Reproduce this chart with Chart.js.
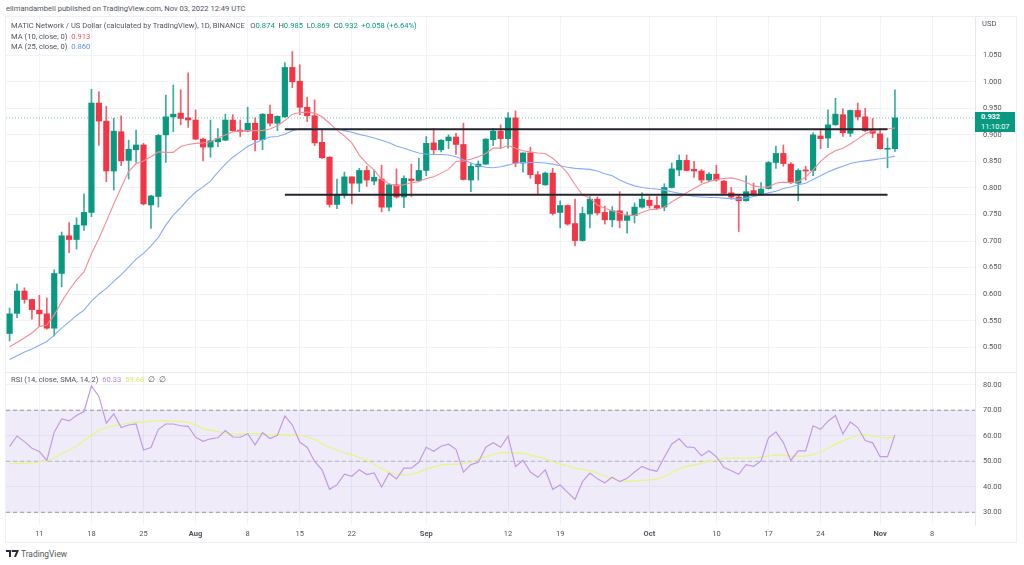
<!DOCTYPE html>
<html>
<head>
<meta charset="utf-8">
<title>MATIC / USD</title>
<script src="https://cdn.jsdelivr.net/npm/chart.js@4"></script>
<style>
html,body{margin:0;padding:0;background:#fff;width:1024px;height:565px;overflow:hidden;font-family:Roboto,sans-serif;}
canvas{position:absolute;left:6px;}
#priceChart{top:17px;}
#rsiChart{top:373px;}
.frame{position:absolute;left:5px;top:16px;width:1010px;height:525px;border:1px solid #eef0f6;}
.sep{position:absolute;left:6px;top:372px;width:1010px;height:1px;background:#e9ebf2;}
.txt{position:absolute;font-size:7.6px;line-height:10px;color:#50535e;white-space:pre;}
.tag{position:absolute;left:975px;top:112px;width:40px;height:20px;background:#089981;color:#fff;font-size:7.4px;line-height:9.5px;padding-left:6px;box-sizing:border-box;}
.g{color:#089981}.r{color:#f7525f}.b{color:#5f8dfa}.p{color:#b58ce0}.y{color:#d7ee6c}
</style>
</head>
<body>
<div class="frame"></div>
<div class="sep"></div>
<canvas id="priceChart" width="1010" height="355"></canvas>
<canvas id="rsiChart" width="1010" height="169"></canvas>

<div class="txt" style="left:6px;top:4px;">elimandambell published on TradingView.com, Nov 03, 2022 12:49 UTC</div>
<div class="txt" style="left:11px;top:21px;">MATIC Network / US Dollar (calculated by TradingView), 1D, BINANCE   O<span class="g">0.874</span>  H<span class="g">0.985</span>  L<span class="g">0.869</span>  C<span class="g">0.932</span>  <span class="g">+0.058 (+6.64%)</span></div>
<div class="txt" style="left:11px;top:32px;">MA (10, close, 0)  <span class="r">0.913</span></div>
<div class="txt" style="left:11px;top:42px;">MA (25, close, 0)  <span class="b">0.860</span></div>
<div class="txt" style="left:11px;top:375px;">RSI (14, close, SMA, 14, 2)  <span class="p">60.33</span>  <span class="y">59.68</span>  ∅  ∅</div>
<div class="txt" style="left:982px;top:19px;">USD</div>
<div class="tag"><b>0.932</b><br>11:10:07</div>
<svg style="position:absolute;left:6px;top:550px;" width="13" height="8" viewBox="0 0 13 8"><path d="M0 0h5v7H3V2H0z M6 0h7l-3 7H8l2-5H6z" fill="#2a2e39"/><circle cx="6.5" cy="1" r="1" fill="#2a2e39"/></svg>
<div class="txt" style="left:21px;top:549px;font-size:8.4px;color:#555;">TradingView</div>

<script>
var opens = [.526,.564,.606,.590,.570,.563,.536,.639,.710,.703,.730,.754,.960,.926,.832,.906,.852,.872,.881,.768,
.784,.900,.934,.941,.932,.928,.892,.877,.887,.890,.928,.909,.907,.922,.891,.939,.922,.934,1.027,1.001,
.952,.936,.886,.858,.769,.787,.821,.809,.833,.813,.817,.764,.806,.783,.817,.814,.833,.885,.872,.889,
.896,.882,.815,.840,.845,.891,.907,.893,.932,.847,.866,.825,.806,.828,.754,.767,.733,.701,.751,.779,
.754,.740,.757,.739,.748,.764,.777,.767,.764,.801,.834,.852,.835,.832,.815,.826,.813,.791,.783,.776,
.795,.787,.799,.848,.865,.845,.809,.834,.833,.898,.894,.919,.938,.903,.946,.934,.910,.902,.873,.874];
var highs = [.574,.619,.612,.591,.598,.593,.646,.717,.735,.744,.789,.986,.981,.954,.931,.936,.890,.909,.884,.786,
.901,.975,.994,.985,1.017,.947,.894,.928,.912,.939,.938,.928,.952,.932,.940,.956,.936,1.036,1.057,1.032,
.971,.966,.911,.859,.817,.830,.821,.837,.841,.834,.843,.808,.836,.823,.845,.856,.897,.912,.891,.900,
.903,.922,.847,.851,.893,.912,.919,.942,.945,.866,.877,.831,.830,.837,.776,.768,.779,.764,.784,.783,
.766,.765,.793,.755,.772,.791,.784,.784,.808,.847,.862,.862,.850,.835,.829,.843,.814,.801,.787,.823,
.809,.810,.850,.879,.881,.848,.836,.841,.904,.909,.947,.969,.949,.947,.960,.950,.931,.912,.894,.985];
var lows = [.512,.556,.583,.553,.539,.534,.521,.614,.678,.685,.720,.746,.880,.812,.796,.842,.817,.848,.768,.724,
.764,.848,.906,.919,.914,.891,.851,.858,.878,.889,.907,.897,.906,.870,.872,.917,.908,.933,.989,.938,
.925,.880,.855,.764,.761,.781,.770,.793,.803,.806,.755,.757,.781,.763,.784,.813,.823,.864,.868,.874,
.863,.815,.793,.815,.844,.880,.874,.875,.840,.830,.818,.789,.805,.749,.725,.730,.691,.700,.725,.749,
.732,.727,.725,.715,.734,.762,.762,.760,.757,.800,.823,.832,.820,.810,.812,.813,.787,.779,.718,.775,
.786,.786,.798,.837,.841,.808,.776,.815,.823,.874,.876,.918,.897,.897,.928,.906,.895,.873,.838,.869];
var closes = [.563,.606,.590,.571,.563,.536,.639,.710,.703,.730,.754,.960,.926,.832,.907,.851,.873,.881,.770,.785,
.899,.934,.939,.931,.928,.892,.877,.889,.893,.928,.908,.906,.922,.891,.939,.922,.935,1.027,1.000,.952,
.936,.885,.857,.769,.787,.821,.809,.833,.815,.820,.764,.806,.783,.818,.814,.833,.884,.872,.890,.896,
.882,.816,.841,.845,.892,.907,.893,.932,.847,.866,.825,.808,.828,.752,.767,.732,.701,.752,.779,.753,
.740,.757,.739,.748,.764,.779,.767,.762,.801,.836,.852,.833,.832,.815,.826,.815,.790,.783,.776,.793,
.787,.798,.848,.865,.846,.810,.833,.832,.900,.893,.919,.939,.904,.946,.934,.908,.903,.874,.874,.932];
var ma10 = [.501,.509,.518,.527,.539,.542,.561,.586,.608,.627,.642,.676,.705,.737,.770,.801,.831,.846,.851,.859,
.868,.867,.867,.878,.882,.884,.885,.887,.894,.900,.906,.907,.908,.908,.908,.911,.917,.927,.939,.942,
.943,.941,.934,.922,.909,.898,.885,.862,.846,.834,.816,.808,.804,.806,.810,.812,.818,.821,.828,.835,
.850,.851,.854,.859,.865,.875,.875,.880,.875,.870,.868,.866,.865,.856,.843,.828,.806,.787,.781,.768,
.762,.757,.753,.749,.748,.754,.759,.760,.764,.774,.782,.791,.799,.807,.812,.816,.818,.819,.816,.811,
.804,.802,.802,.809,.811,.810,.812,.821,.834,.850,.862,.870,.875,.883,.892,.902,.907,.911,.911,.913];
var ma25 = [.477,.484,.491,.497,.504,.511,.523,.536,.548,.560,.570,.587,.600,.611,.624,.637,.651,.666,.677,.691,
.707,.730,.749,.763,.779,.792,.802,.813,.830,.845,.858,.868,.878,.885,.891,.896,.897,.901,.908,.911,
.911,.911,.911,.911,.911,.908,.905,.901,.898,.894,.890,.885,.879,.875,.870,.866,.864,.863,.863,.862,
.859,.853,.847,.842,.839,.838,.840,.843,.847,.848,.848,.848,.847,.845,.842,.839,.837,.836,.835,.832,
.827,.823,.815,.809,.804,.801,.799,.798,.796,.793,.790,.787,.784,.783,.782,.782,.781,.780,.779,.781,
.784,.787,.791,.794,.799,.802,.806,.809,.816,.823,.830,.836,.841,.846,.849,.851,.853,.855,.857,.860];
var rsi = [55.8,59.9,57.7,55.1,53.8,50.3,61.4,66.6,65.8,67.9,69.5,79.5,75.4,64.9,68.6,63.2,64.2,64.6,54.4,55.4,
62.5,64.6,64.6,63.9,63.7,59.4,57.8,58.8,59.2,62.0,59.5,59.4,60.8,56.4,61.2,58.9,60.2,67.8,64.2,57.5,
55.4,49.9,46.6,39.0,40.8,44.9,44.1,46.7,44.8,45.4,39.9,45.3,43.1,47.3,47.3,49.6,55.5,53.9,55.9,56.7,
54.7,45.7,48.7,49.6,55.5,57.3,55.5,59.8,47.9,50.4,45.8,43.7,46.6,39.0,40.7,37.8,35.0,42.0,45.4,43.1,
41.6,43.7,42.0,43.3,45.8,48.0,46.7,46.1,51.6,56.8,58.8,55.6,55.4,52.2,54.1,51.8,47.6,46.3,44.9,48.7,
48.0,50.1,59.2,61.5,57.3,50.3,54.1,54.1,63.9,62.5,65.7,67.9,60.7,65.4,63.2,58.1,57.2,51.8,51.8,60.33];
var rsiMa = [49.1,49.2,49.2,49.3,49.7,50.1,51.2,52.9,54.4,56.0,58.0,60.3,62.0,63.2,64.0,64.4,64.9,65.3,65.3,65.6,
65.8,65.8,65.7,65.6,65.3,64.2,62.7,62.2,61.6,61.1,60.7,60.6,60.8,60.8,60.6,60.2,60.2,60.3,60.3,60.1,
59.5,58.6,56.9,55.5,54.4,53.4,52.5,51.4,50.4,48.8,47.1,45.8,44.9,44.6,44.8,45.8,46.9,47.8,48.6,48.8,
48.8,49.1,49.7,50.8,51.8,52.7,53.3,53.5,53.1,53.3,52.5,51.7,51.0,49.9,48.8,48.3,47.3,46.9,46.3,45.3,
44.2,43.2,42.4,42.2,42.2,42.5,42.7,42.9,44.0,45.6,47.1,48.0,48.6,49.2,50.0,50.5,51.2,51.2,51.2,51.2,
51.2,51.6,52.1,52.5,52.4,52.0,52.0,52.0,52.6,53.5,55.1,56.7,58.0,59.2,60.1,60.3,59.9,59.4,59.0,59.68];

var tickDays = [4,11,18,25,32,39,46,56,67,74,86,95,102,109,117,124];
var tickLabels = ['11','18','25','Aug','8','15','22','Sep','12','19','Oct','10','17','24','Nov','8'];
var boldLabels = ['Aug','Sep','Oct','Nov'];
var priceTicks = [.5,.55,.6,.65,.7,.75,.8,.85,.9,.95,1,1.05];
var rsiTicks = [30,40,50,60,70,80];
var supportHigh = .9105;
var supportLow = .7874;
var supportDays = [37,118];
var lastPrice = .932;

var xMin = -0.484, xMax = 129.76;
var green = '#089981', red = '#f23645';
var gridColor = '#f1f3f9';

function pts(arr){ return arr.map(function(v,i){ return {x:i,y:v}; }); }
function hline(v,days){ return days.map(function(d){ return {x:d,y:v}; }); }
function candleColors(){ return closes.map(function(c,i){ return c>=opens[i] ? green : red; }); }

function xAxis(showLabels){
    return {
        type:'linear', min:xMin, max:xMax, offset:false,
        afterBuildTicks:function(a){ a.ticks = tickDays.map(function(d){ return {value:d}; }); },
        afterFit:function(a){ a.height = showLabels ? 17 : 0; a.paddingLeft = 0; a.paddingRight = 0; },
        border:{display:false},
        grid:{color:gridColor,lineWidth:1,drawTicks:false,offset:false},
        ticks:{
            display:showLabels, autoSkip:false, maxRotation:0, padding:5, color:'#50535e',
            font:function(c){ return {family:'Roboto',size:7.5,weight:(c.tick && boldLabels.indexOf(c.tick.label)>=0)?'bold':'normal'}; },
            callback:function(v){ return tickLabels[tickDays.indexOf(v)]; }
        }
    };
}
function yAxis(min,max,ticks,decimals){
    return {
        position:'right', min:min, max:max,
        afterBuildTicks:function(a){ a.ticks = ticks.map(function(v){ return {value:v}; }); },
        // tick padding would otherwise shrink the plot height
        afterFit:function(a){ a.width = 41; a.paddingTop = 0; a.paddingBottom = 0; },
        border:{display:true,color:'#e6e8ef'},
        grid:{color:gridColor,lineWidth:1,drawTicks:false},
        ticks:{
            crossAlign:'near', padding:8, color:'#50535e', font:{family:'Roboto',size:7.4},
            callback:function(v){ return v.toFixed(decimals); }
        }
    };
}

var priceChart = new Chart(document.getElementById('priceChart'),{
    data:{
        datasets:[
            {type:'bar',data:pts(lows).map(function(p,i){ return {x:i,y:[lows[i],highs[i]]}; }),backgroundColor:candleColors().map(function(c){ return c+'cc'; }),barThickness:1,grouped:false,order:6},
            {type:'bar',data:pts(opens).map(function(p,i){ return {x:i,y:[opens[i],closes[i]]}; }),backgroundColor:candleColors(),barThickness:5.5,grouped:false,minBarLength:1,order:5},
            {type:'line',data:pts(ma10),borderColor:'#f98b93',borderWidth:1.1,pointRadius:0,order:4},
            {type:'line',data:pts(ma25),borderColor:'#8aaafb',borderWidth:1.1,pointRadius:0,order:3},
            {type:'line',data:hline(lastPrice,[xMin,xMax]),borderColor:'rgba(8,153,129,.55)',borderWidth:1,borderDash:[1,2],pointRadius:0,order:2},
            {type:'line',data:hline(supportHigh,supportDays),borderColor:'#23262f',borderWidth:2,pointRadius:0,order:1},
            {type:'line',data:hline(supportLow,supportDays),borderColor:'#23262f',borderWidth:2,pointRadius:0,order:1}
        ]
    },
    options:{
        responsive:false, animation:false,
        plugins:{legend:{display:false},tooltip:{enabled:false}},
        layout:{padding:0},
        scales:{x:xAxis(false),y:yAxis(.4535,1.122,priceTicks,3)}
    }
});

var rsiChart = new Chart(document.getElementById('rsiChart'),{
    type:'line',
    data:{
        datasets:[
            {data:hline(70,[xMin,xMax]),borderColor:'#9598a1',borderWidth:1,borderDash:[4,3],pointRadius:0,order:5},
            {data:hline(30,[xMin,xMax]),borderColor:'#9598a1',borderWidth:1,borderDash:[4,3],pointRadius:0,fill:'-1',backgroundColor:'rgba(126,87,194,.12)',order:4},
            {data:hline(50,[xMin,xMax]),borderColor:'#b2b5be',borderWidth:1,borderDash:[4,3],pointRadius:0,order:3},
            {data:pts(rsiMa),borderColor:'#e6f77f',borderWidth:1.2,pointRadius:0,order:2},
            {data:pts(rsi),borderColor:'#c29be6',borderWidth:1.2,pointRadius:0,order:1}
        ]
    },
    options:{
        responsive:false, animation:false,
        plugins:{legend:{display:false},tooltip:{enabled:false}},
        layout:{padding:0},
        scales:{x:xAxis(true),y:yAxis(25.02,84.58,rsiTicks,2)}
    }
});
</script>
</body>
</html>
